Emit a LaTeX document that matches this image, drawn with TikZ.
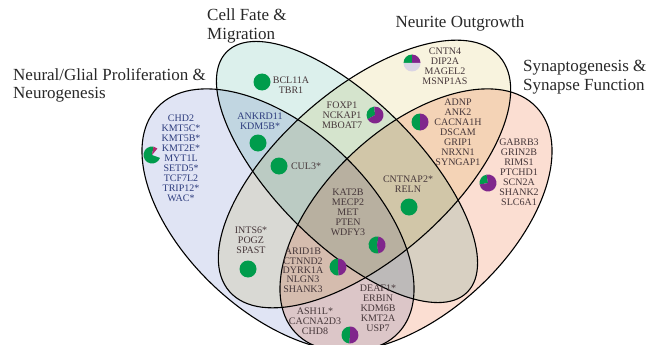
\documentclass[tikz,border=0pt]{standalone}
\usepackage{fontspec}
\setmainfont{Liberation Serif}
\definecolor{setA}{RGB}{224,228,244}
\definecolor{setB}{RGB}{220,240,236}
\definecolor{setC}{RGB}{248,243,222}
\definecolor{setD}{RGB}{251,222,210}
\definecolor{pgreen}{RGB}{0,156,76}
\definecolor{ppurple}{RGB}{128,38,140}
\definecolor{plight}{RGB}{218,212,228}
\definecolor{pmag}{RGB}{176,40,110}
\definecolor{bluetext}{RGB}{45,60,125}
\definecolor{genetext}{RGB}{70,55,58}
\definecolor{titletext}{RGB}{40,40,40}
% one slice of a small pie chart: centre, start angle, end angle, colour
\newcommand\pieslice[4]{\fill[#4] (#1) -- ++(#2:8.5pt) arc[start angle=#2,end angle=#3,radius=8.5pt] -- cycle;}
\begin{document}
\begin{tikzpicture}[x=1pt,y=-1pt,
  setfill/.style={blend mode=multiply},
  setline/.style={draw=black,line width=1.1pt},
  gene1/.style={font=\fontsize{10}{10}\selectfont,inner sep=0pt,text=genetext},
  gene/.style={gene1,align=center},
  bgene/.style={gene,text=bluetext},
  title/.style={font=\fontsize{17}{18.5}\selectfont,align=left,inner sep=0pt,text=titletext},
  dot/.style={circle,fill=pgreen,minimum size=17pt,inner sep=0pt},
  rotA/.style={rotate around={-43:(cA)}},
  rotB/.style={rotate around={-45:(cB)}},
  rotC/.style={rotate around={41:(cC)}},
  rotD/.style={rotate around={43:(cD)}}]
\useasboundingbox (0,0) rectangle (648,345);
\fill[white] (0,0) rectangle (648,345);

% the four sets
\coordinate (cA) at (278,220);
\coordinate (cB) at (347,172);
\coordinate (cC) at (364.5,174);
\coordinate (cD) at (416,220);
\fill[setA,setfill,rotA] (cA) ellipse [x radius=165pt,y radius=92pt];
\fill[setB,setfill,rotB] (cB) ellipse [x radius=170pt,y radius=72pt];
\fill[setC,setfill,rotC] (cC) ellipse [x radius=179pt,y radius=85pt];
\fill[setD,setfill,rotD] (cD) ellipse [x radius=165pt,y radius=92pt];
\draw[setline,rotA] (cA) ellipse [x radius=165pt,y radius=92pt];
\draw[setline,rotB] (cB) ellipse [x radius=170pt,y radius=72pt];
\draw[setline,rotC] (cC) ellipse [x radius=179pt,y radius=85pt];
\draw[setline,rotD] (cD) ellipse [x radius=165pt,y radius=92pt];

% set titles
\node[title,anchor=west] (tA) at (13,85.5) {Neural/Glial Proliferation \&\\Neurogenesis};
\node[title,anchor=west] (tB) at (207,26) {Cell Fate \&\\Migration};
\node[title] (tC) at (460,23.5) {Neurite Outgrowth};
\node[title,anchor=west] (tD) at (523,77) {Synaptogenesis \&\\Synapse Function};

% gene lists
\node[bgene] (gA) at (181,158) {CHD2\\KMT5C*\\KMT5B*\\KMT2E*\\MYT1L\\SETD5*\\TCF7L2\\TRIP12*\\WAC*};
\node[gene] (gB) at (291,85) {BCL11A\\TBR1};
\node[bgene] (gAB) at (260,121.5) {ANKRD11\\KDM5B*};
\node[gene1] (gABC) at (306,166) {CUL3*};
\node[gene] (gBC) at (342,115) {FOXP1\\NCKAP1\\MBOAT7};
\node[gene] (gC) at (445,66) {CNTN4\\DIP2A\\MAGEL2\\MSNP1AS};
\node[gene] (gCD) at (458,132.5) {ADNP\\ANK2\\CACNA1H\\DSCAM\\GRIP1\\NRXN1\\SYNGAP1};
\node[gene] (gD) at (519,172.5) {GABRB3\\GRIN2B\\RIMS1\\PTCHD1\\SCN2A\\SHANK2\\SLC6A1};
\node[gene] (gBCD) at (408,184.5) {CNTNAP2*\\RELN};
\node[gene] (gABCD) at (348,212.5) {KAT2B\\MECP2\\MET\\PTEN\\WDFY3};
\node[gene] (gAC) at (251,240) {INTS6*\\POGZ\\SPAST};
\node[gene] (gACDa) at (303,256.5) {ARID1B\\CTNND2};
\node[gene1] (gACDb) at (303,270) {DYRK1A};
\node[gene1] (gACDc) at (303,279.5) {NLGN3};
\node[gene1] (gACDd) at (303,289.5) {SHANK3};
\node[gene] (gABD) at (378,308.5) {DEAF1*\\ERBIN\\KDM6B\\KMT2A\\USP7};
\node[gene] (gAD) at (315,321) {ASH1L*\\CACNA2D3\\CHD8};

% solid markers
\node[dot] (dB) at (262,82) {};
\node[dot] (dAB) at (258,143) {};
\node[dot] (dABC) at (279,166) {};
\node[dot] (dBCD) at (409,207) {};
\node[dot] (dAC) at (248,269) {};

% pie markers
\coordinate (pA) at (152,155);
\pieslice{pA}{80}{340}{pgreen}
\pieslice{pA}{50}{80}{pmag}
\coordinate (pC) at (412,63);
\pieslice{pC}{90}{180}{pgreen}
\pieslice{pC}{0}{90}{ppurple}
\pieslice{pC}{180}{360}{plight}
\coordinate (pBC) at (375,115);
\pieslice{pBC}{95}{210}{pgreen}
\pieslice{pBC}{210}{455}{ppurple}
\coordinate (pCD) at (420,122);
\pieslice{pCD}{90}{270}{pgreen}
\pieslice{pCD}{270}{450}{ppurple}
\coordinate (pD) at (488,183);
\pieslice{pD}{100}{190}{pgreen}
\pieslice{pD}{190}{460}{ppurple}
\coordinate (pABCD) at (377,245);
\pieslice{pABCD}{80}{280}{pgreen}
\pieslice{pABCD}{280}{440}{ppurple}
\coordinate (pACD) at (338,267);
\pieslice{pACD}{90}{275}{pgreen}
\pieslice{pACD}{275}{450}{ppurple}
\coordinate (pAD) at (350,335);
\pieslice{pAD}{90}{265}{pgreen}
\pieslice{pAD}{265}{450}{ppurple}
\end{tikzpicture}
\end{document}
